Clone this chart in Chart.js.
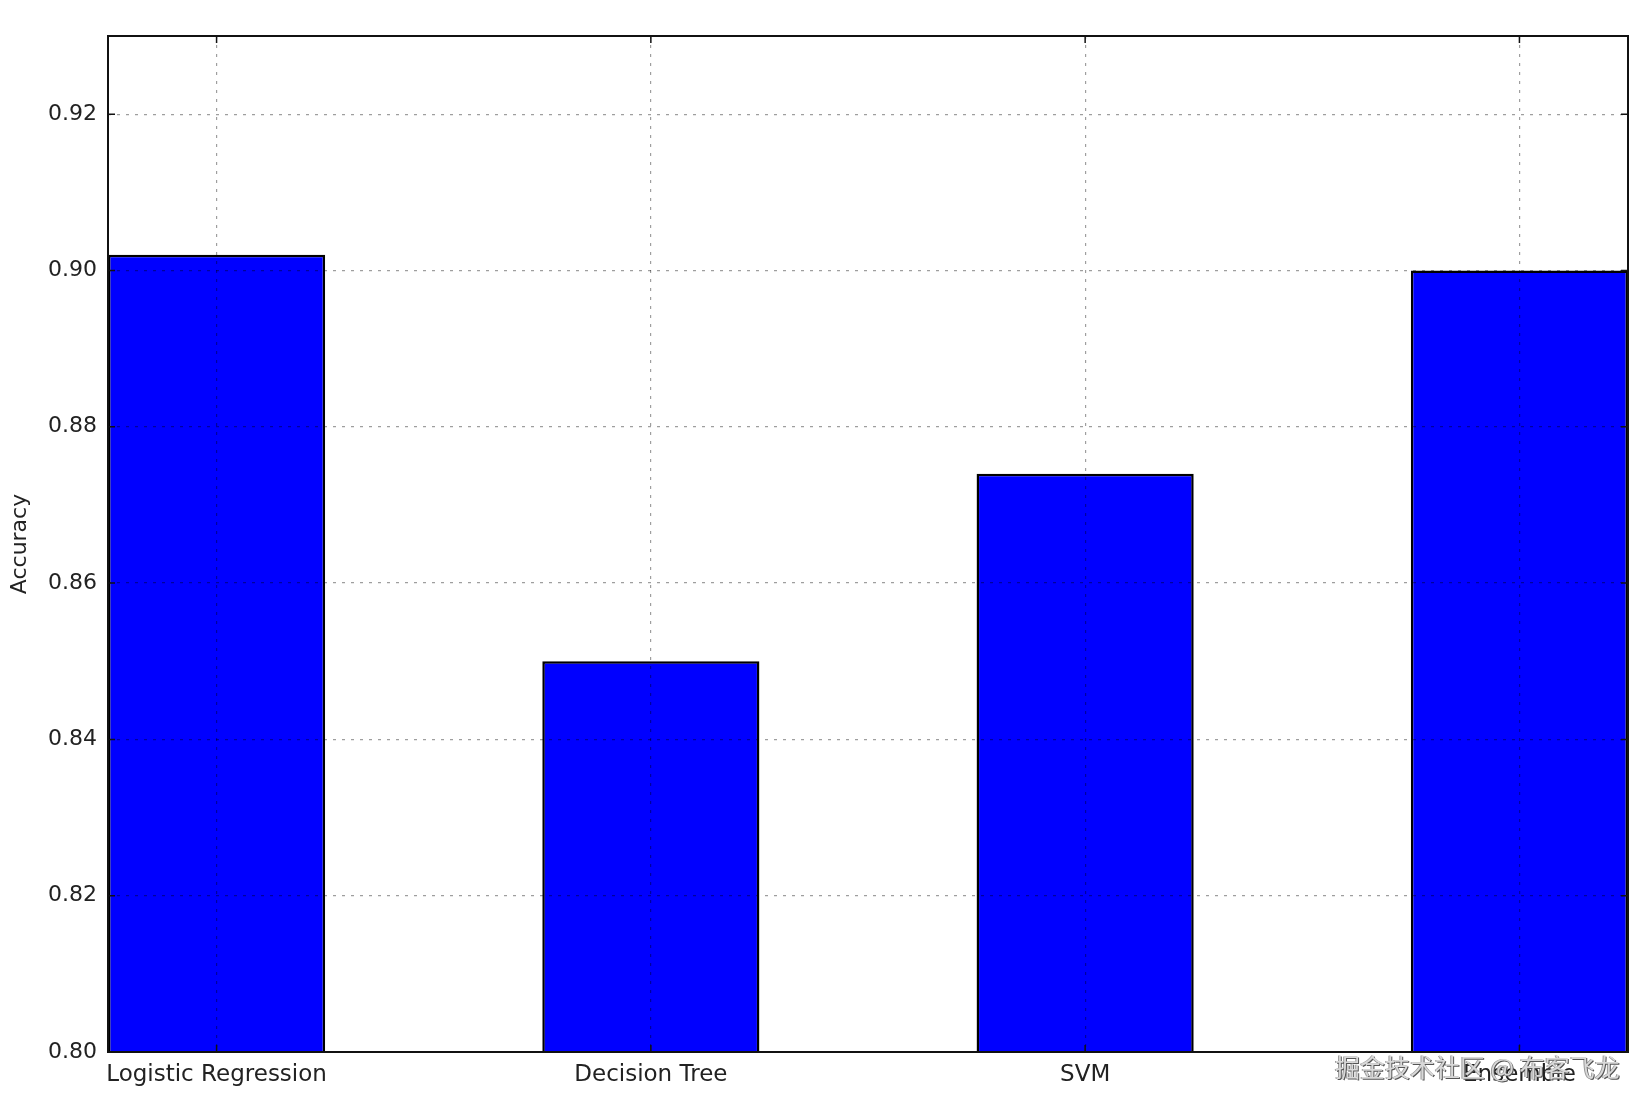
<!DOCTYPE html>
<html>
<head>
<meta charset="utf-8">
<script src="https://cdn.jsdelivr.net/npm/chart.js@4"></script>
<style>
  body { margin: 0; background: #fff; }
  #wrap { position: relative; width: 1650px; height: 1110px; }
  #mark { position: absolute; left: 1335px; top: 1054px; font: 25px "Noto Sans CJK SC"; line-height: 1; color: #d8d8d8;
    text-shadow: 1px 1px 0 #555, -1px 0 0 #999; white-space: nowrap; }
</style>
</head>
<body>
<div id="wrap">
  <canvas id="chart" width="1650" height="1110"></canvas>
  <div id="mark">掘金技术社区 @ 布客飞龙</div>
</div>
<script>
const categories = ['Logistic Regression', 'Decision Tree', 'SVM', 'Ensemble'];
const accuracy = [0.902, 0.850, 0.874, 0.900];
const yTicks = [0.80, 0.82, 0.84, 0.86, 0.88, 0.90, 0.92];

// black frame round the plot plus matplotlib-style inward ticks
const framePlugin = {
  id: 'frame',
  afterDraw(chart) {
    const { ctx, chartArea: a, scales } = chart;
    ctx.save();
    ctx.strokeStyle = '#111';
    ctx.lineWidth = 1.5;
    ctx.beginPath();
    scales.y.ticks.forEach(t => {
      const py = scales.y.getPixelForValue(t.value);
      ctx.moveTo(a.left, py); ctx.lineTo(a.left + 7, py);
      ctx.moveTo(a.right, py); ctx.lineTo(a.right - 7, py);
    });
    scales.x.ticks.forEach(t => {
      const px = scales.x.getPixelForValue(t.value);
      ctx.moveTo(px, a.bottom); ctx.lineTo(px, a.bottom - 7);
      ctx.moveTo(px, a.top); ctx.lineTo(px, a.top + 7);
    });
    ctx.stroke();
    ctx.lineWidth = 2;
    ctx.strokeRect(a.left, a.top, a.right - a.left, a.bottom - a.top);
    ctx.restore();
  }
};

const font = { family: 'DejaVu Sans', size: 22 };

new Chart(document.getElementById('chart'), {
  type: 'bar',
  data: {
    datasets: [{
      data: categories.map((c, i) => ({ x: i, y: accuracy[i] })),
      backgroundColor: '#0000ff',
      borderColor: '#000',
      borderWidth: 2.5,
      borderSkipped: false,
      barPercentage: 0.5,
      categoryPercentage: 1.0
    }]
  },
  options: {
    responsive: false,
    animation: false,
    layout: { padding: { top: 36, right: 22, left: 0, bottom: 0 } },
    plugins: { legend: { display: false }, tooltip: { enabled: false } },
    scales: {
      x: {
        type: 'linear',
        min: -0.25,
        max: 3.25,
        offset: false,
        afterBuildTicks: s => { s.ticks = categories.map((c, i) => ({ value: i })); },
        afterFit: s => { s.height = 58; },
        grid: { offset: false, z: 1, color: 'rgba(0,0,0,0.38)', lineWidth: 1.2, drawTicks: false },
        border: { display: false, dash: [3, 6] },
        ticks: { color: '#222', font: { family: 'DejaVu Sans', size: 23 }, padding: 9, maxRotation: 0, autoSkip: false,
          callback: v => categories[v] }
      },
      y: {
        min: 0.80,
        max: 0.93,
        afterBuildTicks: s => { s.ticks = yTicks.map(v => ({ value: v })); },
        afterFit: s => { s.width = 108; },
        grid: { z: 1, color: 'rgba(0,0,0,0.38)', lineWidth: 1.2, drawTicks: false },
        border: { display: false, dash: [3, 6] },
        title: { display: true, text: 'Accuracy', color: '#222', font: font, padding: { top: 7, bottom: 0 } },
        ticks: { color: '#222', font: font, padding: 11, callback: v => v.toFixed(2) }
      }
    }
  },
  plugins: [framePlugin]
});
</script>
</body>
</html>
